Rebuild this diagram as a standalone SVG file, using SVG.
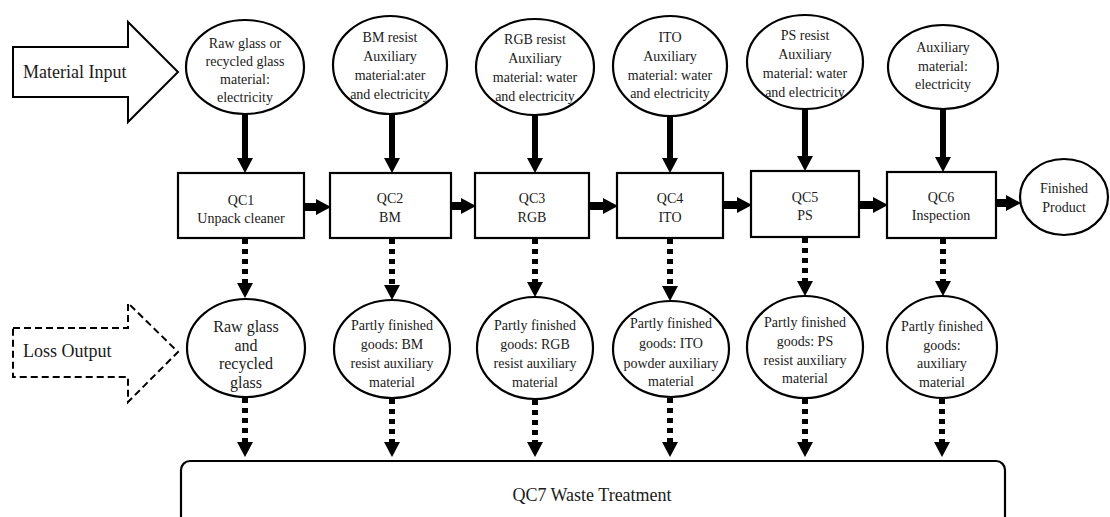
<svg xmlns="http://www.w3.org/2000/svg" width="1110" height="517" viewBox="0 0 1110 517">
<style>
  .shape { fill: #ffffff; stroke: #000000; stroke-width: 2.2; }
  .big { fill: #ffffff; stroke: #000000; stroke-width: 2; }
  .dashbig { fill: #ffffff; stroke: #000000; stroke-width: 2; stroke-dasharray: 7 4; }
  text { font-family: 'Liberation Serif', 'Tinos', 'DejaVu Serif', serif; fill: #1a1a1a; }
  .t { font-size: 14px; text-anchor: middle; }
  .t16 { font-size: 16px; text-anchor: middle; }
  .t18 { font-size: 18px; }
  .solid { stroke: #000000; stroke-width: 6; fill: none; marker-end: url(#head); }
  .solidh { stroke: #000000; stroke-width: 8; fill: none; marker-end: url(#head); }
  .dotted { stroke: #000000; stroke-width: 6; stroke-dasharray: 5 5; fill: none; marker-end: url(#head); }
</style>
<defs>
  <marker id="head" viewBox="0 0 15 16" markerWidth="15" markerHeight="16" refX="0" refY="8" orient="auto" markerUnits="userSpaceOnUse">
    <path d="M0,0 L15,8 L0,16 Z" fill="#000000"/>
  </marker>
</defs>
<rect width="1110" height="517" fill="#ffffff"/>

<g font-family="Liberation Serif, serif">
<g id="material-input">
  <polygon class="big" points="13,47 128,47 128,22 178,72 128,122 128,97 13,97"/>
  <text class="t18" x="23" y="78">Material Input</text>
</g>
<g id="loss-output">
  <polygon class="dashbig" points="13,328 128,328 128,303 178,352 128,402 128,377 13,377"/>
  <text class="t18" x="23" y="357">Loss Output</text>
</g>

<g id="in1">
  <ellipse class="shape" cx="245" cy="67" rx="59" ry="47"/>
  <text class="t" x="245" y="48">Raw glass or</text>
  <text class="t" x="245" y="66">recycled glass</text>
  <text class="t" x="245" y="84">material:</text>
  <text class="t" x="245" y="102">electricity</text>
</g>
<g id="in2">
  <ellipse class="shape" cx="390" cy="65" rx="57" ry="49"/>
  <text class="t" x="390" y="42">BM resist</text>
  <text class="t" x="390" y="61">Auxiliary</text>
  <text class="t" x="390" y="80">material:ater</text>
  <text class="t" x="390" y="99">and electricity</text>
</g>
<g id="in3">
  <ellipse class="shape" cx="535" cy="67" rx="59" ry="48"/>
  <text class="t" x="535" y="44">RGB resist</text>
  <text class="t" x="535" y="63">Auxiliary</text>
  <text class="t" x="535" y="82">material: water</text>
  <text class="t" x="535" y="101">and electricity</text>
</g>
<g id="in4">
  <ellipse class="shape" cx="670" cy="66" rx="57" ry="50"/>
  <text class="t" x="670" y="42">ITO</text>
  <text class="t" x="670" y="61">Auxiliary</text>
  <text class="t" x="670" y="80">material: water</text>
  <text class="t" x="670" y="98">and electricity</text>
</g>
<g id="in5">
  <ellipse class="shape" cx="805" cy="62" rx="58" ry="47"/>
  <text class="t" x="805" y="40">PS resist</text>
  <text class="t" x="805" y="59">Auxiliary</text>
  <text class="t" x="805" y="78">material: water</text>
  <text class="t" x="805" y="97">and electricity</text>
</g>
<g id="in6">
  <ellipse class="shape" cx="943" cy="67" rx="55" ry="42"/>
  <text class="t" x="943" y="52">Auxiliary</text>
  <text class="t" x="943" y="71">material:</text>
  <text class="t" x="943" y="89">electricity</text>
</g>

<g id="qc1">
  <rect class="shape" x="178" y="173" width="126" height="65"/>
  <text class="t" x="241" y="205">QC1</text>
  <text class="t" x="241" y="223">Unpack cleaner</text>
</g>
<g id="qc2">
  <rect class="shape" x="330" y="173" width="121" height="65"/>
  <text class="t" x="390" y="203">QC2</text>
  <text class="t" x="390" y="222">BM</text>
</g>
<g id="qc3">
  <rect class="shape" x="475" y="173" width="114" height="65"/>
  <text class="t" x="532" y="203">QC3</text>
  <text class="t" x="532" y="222">RGB</text>
</g>
<g id="qc4">
  <rect class="shape" x="617" y="173" width="106" height="65"/>
  <text class="t" x="670" y="203">QC4</text>
  <text class="t" x="670" y="222">ITO</text>
</g>
<g id="qc5">
  <rect class="shape" x="751" y="171" width="108" height="66"/>
  <text class="t" x="805" y="202">QC5</text>
  <text class="t" x="805" y="220">PS</text>
</g>
<g id="qc6">
  <rect class="shape" x="887" y="172" width="109" height="66"/>
  <text class="t" x="941" y="202">QC6</text>
  <text class="t" x="941" y="220">Inspection</text>
</g>
<g id="finished">
  <ellipse class="shape" cx="1064" cy="197" rx="44" ry="38"/>
  <text class="t" x="1064" y="193">Finished</text>
  <text class="t" x="1064" y="212">Product</text>
</g>

<g id="loss1">
  <ellipse class="shape" cx="246" cy="348" rx="59" ry="49"/>
  <text class="t16" x="246" y="332">Raw glass</text>
  <text class="t16" x="246" y="351">and</text>
  <text class="t16" x="246" y="369">recycled</text>
  <text class="t16" x="246" y="388">glass</text>
</g>
<g id="loss2">
  <ellipse class="shape" cx="392" cy="349" rx="58" ry="49"/>
  <text class="t" x="392" y="330">Partly finished</text>
  <text class="t" x="392" y="349">goods: BM</text>
  <text class="t" x="392" y="368">resist auxiliary</text>
  <text class="t" x="392" y="387">material</text>
</g>
<g id="loss3">
  <ellipse class="shape" cx="535" cy="348" rx="58" ry="51"/>
  <text class="t" x="535" y="330">Partly finished</text>
  <text class="t" x="535" y="349">goods: RGB</text>
  <text class="t" x="535" y="368">resist auxiliary</text>
  <text class="t" x="535" y="387">material</text>
</g>
<g id="loss4">
  <ellipse class="shape" cx="671" cy="349" rx="58" ry="48"/>
  <text class="t" x="671" y="328">Partly finished</text>
  <text class="t" x="671" y="348">goods: ITO</text>
  <text class="t" x="671" y="368">powder auxiliary</text>
  <text class="t" x="671" y="386">material</text>
</g>
<g id="loss5">
  <ellipse class="shape" cx="805" cy="347" rx="58" ry="51"/>
  <text class="t" x="805" y="327">Partly finished</text>
  <text class="t" x="805" y="346">goods: PS</text>
  <text class="t" x="805" y="365">resist auxiliary</text>
  <text class="t" x="805" y="383">material</text>
</g>
<g id="loss6">
  <ellipse class="shape" cx="942" cy="347" rx="55" ry="51"/>
  <text class="t" x="942" y="331">Partly finished</text>
  <text class="t" x="942" y="350">goods:</text>
  <text class="t" x="942" y="368">auxiliary</text>
  <text class="t" x="942" y="387">material</text>
</g>

<g id="qc7">
  <rect class="shape" x="181" y="461" width="824" height="80" rx="9" ry="9"/>
  <text class="t18" x="592" y="501" text-anchor="middle">QC7 Waste Treatment</text>
</g>
</g>

<g id="connectors">
  <line class="solid" x1="245" y1="114" x2="245" y2="158"/>
  <line class="solid" x1="392" y1="114" x2="392" y2="158"/>
  <line class="solid" x1="535" y1="115" x2="535" y2="158"/>
  <line class="solid" x1="670" y1="116" x2="670" y2="158"/>
  <line class="solid" x1="805" y1="109" x2="805" y2="156"/>
  <line class="solid" x1="943" y1="109" x2="943" y2="157"/>

  <line class="solidh" x1="304" y1="207" x2="316" y2="207"/>
  <line class="solidh" x1="451" y1="206" x2="461" y2="206"/>
  <line class="solidh" x1="589" y1="206" x2="603" y2="206"/>
  <line class="solidh" x1="723" y1="205" x2="737" y2="205"/>
  <line class="solidh" x1="859" y1="205" x2="873" y2="205"/>
  <line class="solidh" x1="996" y1="203" x2="1006" y2="203"/>

  <line class="dotted" x1="245" y1="239" x2="245" y2="283"/>
  <line class="dotted" x1="392" y1="239" x2="392" y2="285"/>
  <line class="dotted" x1="535" y1="239" x2="535" y2="282"/>
  <line class="dotted" x1="670" y1="239" x2="670" y2="286"/>
  <line class="dotted" x1="805" y1="238" x2="805" y2="281"/>
  <line class="dotted" x1="943" y1="239" x2="943" y2="281"/>

  <line class="dotted" x1="245" y1="398" x2="245" y2="442"/>
  <line class="dotted" x1="392" y1="399" x2="392" y2="442"/>
  <line class="dotted" x1="535" y1="400" x2="535" y2="442"/>
  <line class="dotted" x1="670" y1="398" x2="670" y2="442"/>
  <line class="dotted" x1="805" y1="399" x2="805" y2="442"/>
  <line class="dotted" x1="942" y1="399" x2="942" y2="442"/>
</g>
</svg>
